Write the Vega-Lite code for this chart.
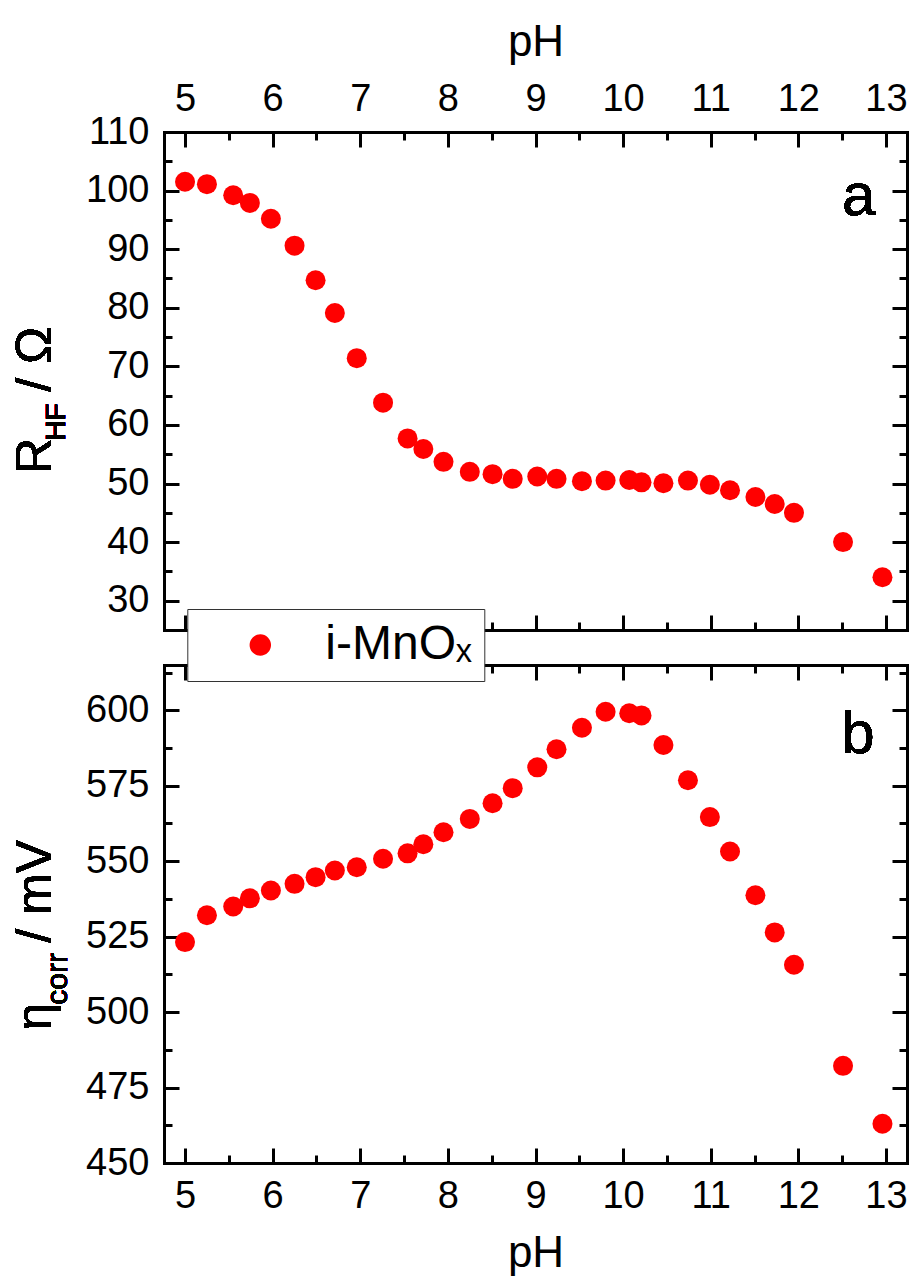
{
  "$schema": "https://vega.github.io/schema/vega-lite/v6.json",
  "padding": {"left": 10, "top": 20, "right": 5, "bottom": 5},
  "background": "white",
  "bounds": "flush",
  "spacing": 35,
  "datasets": {
    "mnox": [
      {"pH": 5.00, "R": 101.5, "eta": 523.2, "sample": "i-MnOₓ"},
      {"pH": 5.25, "R": 101.1, "eta": 532.1, "sample": "i-MnOₓ"},
      {"pH": 5.55, "R": 99.2, "eta": 535.0, "sample": "i-MnOₓ"},
      {"pH": 5.74, "R": 97.9, "eta": 537.7, "sample": "i-MnOₓ"},
      {"pH": 5.98, "R": 95.2, "eta": 540.3, "sample": "i-MnOₓ"},
      {"pH": 6.25, "R": 90.6, "eta": 542.5, "sample": "i-MnOₓ"},
      {"pH": 6.49, "R": 84.7, "eta": 544.7, "sample": "i-MnOₓ"},
      {"pH": 6.71, "R": 79.1, "eta": 546.9, "sample": "i-MnOₓ"},
      {"pH": 6.96, "R": 71.4, "eta": 548.0, "sample": "i-MnOₓ"},
      {"pH": 7.26, "R": 63.8, "eta": 550.8, "sample": "i-MnOₓ"},
      {"pH": 7.54, "R": 57.7, "eta": 552.6, "sample": "i-MnOₓ"},
      {"pH": 7.72, "R": 55.9, "eta": 555.6, "sample": "i-MnOₓ"},
      {"pH": 7.95, "R": 53.7, "eta": 559.6, "sample": "i-MnOₓ"},
      {"pH": 8.25, "R": 52.0, "eta": 564.0, "sample": "i-MnOₓ"},
      {"pH": 8.51, "R": 51.6, "eta": 569.2, "sample": "i-MnOₓ"},
      {"pH": 8.74, "R": 50.8, "eta": 574.2, "sample": "i-MnOₓ"},
      {"pH": 9.02, "R": 51.2, "eta": 581.1, "sample": "i-MnOₓ"},
      {"pH": 9.24, "R": 50.8, "eta": 587.1, "sample": "i-MnOₓ"},
      {"pH": 9.53, "R": 50.4, "eta": 594.2, "sample": "i-MnOₓ"},
      {"pH": 9.80, "R": 50.5, "eta": 599.5, "sample": "i-MnOₓ"},
      {"pH": 10.07, "R": 50.6, "eta": 599.0, "sample": "i-MnOₓ"},
      {"pH": 10.21, "R": 50.2, "eta": 598.3, "sample": "i-MnOₓ"},
      {"pH": 10.46, "R": 50.05, "eta": 588.5, "sample": "i-MnOₓ"},
      {"pH": 10.74, "R": 50.5, "eta": 576.8, "sample": "i-MnOₓ"},
      {"pH": 10.99, "R": 49.8, "eta": 564.6, "sample": "i-MnOₓ"},
      {"pH": 11.22, "R": 48.85, "eta": 553.2, "sample": "i-MnOₓ"},
      {"pH": 11.51, "R": 47.7, "eta": 538.7, "sample": "i-MnOₓ"},
      {"pH": 11.73, "R": 46.5, "eta": 526.4, "sample": "i-MnOₓ"},
      {"pH": 11.95, "R": 45.0, "eta": 515.7, "sample": "i-MnOₓ"},
      {"pH": 12.51, "R": 40.0, "eta": 482.2, "sample": "i-MnOₓ"},
      {"pH": 12.96, "R": 34.0, "eta": 463.0, "sample": "i-MnOₓ"}
    ]
  },
  "vconcat": [
    {
      "width": 743,
      "height": 498,
      "data": {"name": "mnox"},
      "resolve": {"axis": {"x": "independent", "y": "independent"}},
      "layer": [
        {
          "mark": {"type": "circle", "size": 400, "color": "#ff0000", "opacity": 1},
          "encoding": {
            "x": {"field": "pH", "type": "quantitative", "scale": {"domain": [4.76, 13.24], "nice": false, "zero": false},
              "axis": {"orient": "top", "ticks": false, "values": [5, 6, 7, 8, 9, 10, 11, 12, 13], "title": "pH", "labelPadding": 14, "titlePadding": 16}},
            "y": {"field": "R", "type": "quantitative", "scale": {"domain": [25, 110], "nice": false, "zero": false},
              "axis": {"orient": "left", "ticks": false, "values": [30, 40, 50, 60, 70, 80, 90, 100, 110], "title": null, "labelPadding": 15}}
          }
        },
        {
          "mark": {"type": "circle", "opacity": 0},
          "encoding": {
            "x": {"field": "pH", "type": "quantitative", "scale": {"domain": [4.76, 13.24], "nice": false, "zero": false},
              "axis": {"orient": "bottom", "offset": -498, "labels": false, "tickSize": 15, "values": [5, 6, 7, 8, 9, 10, 11, 12, 13], "title": null}},
            "y": {"field": "R", "type": "quantitative", "scale": {"domain": [25, 110], "nice": false, "zero": false},
              "axis": {"orient": "right", "offset": -743, "labels": false, "tickSize": 15, "values": [30, 40, 50, 60, 70, 80, 90, 100, 110], "title": null}}
          }
        },
        {
          "mark": {"type": "circle", "opacity": 0},
          "encoding": {
            "x": {"field": "pH", "type": "quantitative", "scale": {"domain": [4.76, 13.24], "nice": false, "zero": false},
              "axis": {"orient": "bottom", "offset": -498, "labels": false, "tickSize": 8, "values": [5.5, 6.5, 7.5, 8.5, 9.5, 10.5, 11.5, 12.5], "title": null}},
            "y": {"field": "R", "type": "quantitative", "scale": {"domain": [25, 110], "nice": false, "zero": false},
              "axis": {"orient": "right", "offset": -743, "labels": false, "tickSize": 8, "values": [35, 45, 55, 65, 75, 85, 95, 105], "title": null}}
          }
        },
        {
          "mark": {"type": "circle", "opacity": 0},
          "encoding": {
            "x": {"field": "pH", "type": "quantitative", "scale": {"domain": [4.76, 13.24], "nice": false, "zero": false},
              "axis": {"orient": "top", "offset": -498, "labels": false, "tickSize": 15, "values": [5, 6, 7, 8, 9, 10, 11, 12, 13], "title": null}},
            "y": {"field": "R", "type": "quantitative", "scale": {"domain": [25, 110], "nice": false, "zero": false},
              "axis": {"orient": "left", "offset": -743, "labels": false, "tickSize": 15, "values": [30, 40, 50, 60, 70, 80, 90, 100, 110], "title": null}}
          }
        },
        {
          "mark": {"type": "circle", "opacity": 0},
          "encoding": {
            "x": {"field": "pH", "type": "quantitative", "scale": {"domain": [4.76, 13.24], "nice": false, "zero": false},
              "axis": {"orient": "top", "offset": -498, "labels": false, "tickSize": 8, "values": [5.5, 6.5, 7.5, 8.5, 9.5, 10.5, 11.5, 12.5], "title": null}},
            "y": {"field": "R", "type": "quantitative", "scale": {"domain": [25, 110], "nice": false, "zero": false},
              "axis": {"orient": "left", "offset": -743, "labels": false, "tickSize": 8, "values": [35, 45, 55, 65, 75, 85, 95, 105], "title": null}}
          }
        },
        {
          "mark": {"type": "text", "text": "a", "align": "center", "baseline": "alphabetic", "fontSize": 60, "font": "Liberation Sans", "color": "#000"},
          "encoding": {
            "x": {"datum": 12.69, "type": "quantitative", "scale": {"domain": [4.76, 13.24], "nice": false, "zero": false}, "axis": null},
            "y": {"datum": 95.9, "type": "quantitative", "scale": {"domain": [25, 110], "nice": false, "zero": false}, "axis": null}
          }
        },
        {
          "mark": {"type": "text", "text": "R", "angle": 270, "align": "right", "baseline": "alphabetic", "fontSize": 50, "font": "Liberation Sans", "color": "#000"},
          "encoding": {
            "x": {"datum": 3.47, "type": "quantitative", "scale": {"domain": [4.76, 13.24], "nice": false, "zero": false}, "axis": null},
            "y": {"datum": 57.8, "type": "quantitative", "scale": {"domain": [25, 110], "nice": false, "zero": false}, "axis": null}
          }
        },
        {
          "mark": {"type": "text", "text": "HF", "angle": 270, "align": "left", "baseline": "alphabetic", "fontSize": 28, "dx": -3, "dy": 14, "font": "Liberation Sans", "color": "#000"},
          "encoding": {
            "x": {"datum": 3.47, "type": "quantitative", "scale": {"domain": [4.76, 13.24], "nice": false, "zero": false}, "axis": null},
            "y": {"datum": 57.8, "type": "quantitative", "scale": {"domain": [25, 110], "nice": false, "zero": false}, "axis": null}
          }
        },
        {
          "mark": {"type": "text", "text": "/ Ω", "angle": 270, "align": "left", "baseline": "alphabetic", "fontSize": 50, "dx": 46, "font": "Liberation Sans", "color": "#000"},
          "encoding": {
            "x": {"datum": 3.47, "type": "quantitative", "scale": {"domain": [4.76, 13.24], "nice": false, "zero": false}, "axis": null},
            "y": {"datum": 57.8, "type": "quantitative", "scale": {"domain": [25, 110], "nice": false, "zero": false}, "axis": null}
          }
        }
      ]
    },
    {
      "width": 743,
      "height": 498,
      "data": {"name": "mnox"},
      "resolve": {"axis": {"x": "independent", "y": "independent"}},
      "layer": [
        {
          "mark": {"type": "circle", "size": 400, "opacity": 1},
          "encoding": {
            "x": {"field": "pH", "type": "quantitative", "scale": {"domain": [4.76, 13.24], "nice": false, "zero": false},
              "axis": {"orient": "bottom", "ticks": false, "values": [5, 6, 7, 8, 9, 10, 11, 12, 13], "title": "pH", "labelPadding": 14, "titlePadding": 16}},
            "y": {"field": "eta", "type": "quantitative", "scale": {"domain": [450, 615], "nice": false, "zero": false},
              "axis": {"orient": "left", "ticks": false, "values": [450, 475, 500, 525, 550, 575, 600], "title": null, "labelPadding": 15}},
            "color": {"field": "sample", "type": "nominal", "scale": {"range": ["#ff0000"]},
              "legend": {"orient": "none", "legendX": 23.3, "legendY": 477, "title": null, "symbolType": "circle", "symbolSize": 460, "symbolStrokeWidth": 0, "symbolOpacity": 1, "labelFontSize": 48, "labelFont": "Liberation Sans", "labelColor": "#000", "labelLimit": 400, "padding": 12, "symbolOffset": 37, "labelOffset": 41, "fillColor": "#ffffff", "strokeColor": "#333333", "zindex": 5}}
          }
        },
        {
          "mark": {"type": "circle", "opacity": 0},
          "encoding": {
            "x": {"field": "pH", "type": "quantitative", "scale": {"domain": [4.76, 13.24], "nice": false, "zero": false},
              "axis": {"orient": "bottom", "offset": -498, "labels": false, "tickSize": 15, "values": [5, 6, 7, 8, 9, 10, 11, 12, 13], "title": null}},
            "y": {"field": "eta", "type": "quantitative", "scale": {"domain": [450, 615], "nice": false, "zero": false},
              "axis": {"orient": "right", "offset": -743, "labels": false, "tickSize": 15, "values": [450, 475, 500, 525, 550, 575, 600], "title": null}}
          }
        },
        {
          "mark": {"type": "circle", "opacity": 0},
          "encoding": {
            "x": {"field": "pH", "type": "quantitative", "scale": {"domain": [4.76, 13.24], "nice": false, "zero": false},
              "axis": {"orient": "bottom", "offset": -498, "labels": false, "tickSize": 8, "values": [5.5, 6.5, 7.5, 8.5, 9.5, 10.5, 11.5, 12.5], "title": null}},
            "y": {"field": "eta", "type": "quantitative", "scale": {"domain": [450, 615], "nice": false, "zero": false},
              "axis": {"orient": "right", "offset": -743, "labels": false, "tickSize": 8, "values": [462.5, 487.5, 512.5, 537.5, 562.5, 587.5, 612.5], "title": null}}
          }
        },
        {
          "mark": {"type": "circle", "opacity": 0},
          "encoding": {
            "x": {"field": "pH", "type": "quantitative", "scale": {"domain": [4.76, 13.24], "nice": false, "zero": false},
              "axis": {"orient": "top", "offset": -498, "labels": false, "tickSize": 15, "values": [5, 6, 7, 8, 9, 10, 11, 12, 13], "title": null}},
            "y": {"field": "eta", "type": "quantitative", "scale": {"domain": [450, 615], "nice": false, "zero": false},
              "axis": {"orient": "left", "offset": -743, "labels": false, "tickSize": 15, "values": [450, 475, 500, 525, 550, 575, 600], "title": null}}
          }
        },
        {
          "mark": {"type": "circle", "opacity": 0},
          "encoding": {
            "x": {"field": "pH", "type": "quantitative", "scale": {"domain": [4.76, 13.24], "nice": false, "zero": false},
              "axis": {"orient": "top", "offset": -498, "labels": false, "tickSize": 8, "values": [5.5, 6.5, 7.5, 8.5, 9.5, 10.5, 11.5, 12.5], "title": null}},
            "y": {"field": "eta", "type": "quantitative", "scale": {"domain": [450, 615], "nice": false, "zero": false},
              "axis": {"orient": "left", "offset": -743, "labels": false, "tickSize": 8, "values": [462.5, 487.5, 512.5, 537.5, 562.5, 587.5, 612.5], "title": null}}
          }
        },
        {
          "mark": {"type": "text", "text": "b", "align": "center", "baseline": "alphabetic", "fontSize": 60, "font": "Liberation Sans", "color": "#000"},
          "encoding": {
            "x": {"datum": 12.68, "type": "quantitative", "scale": {"domain": [4.76, 13.24], "nice": false, "zero": false}, "axis": null},
            "y": {"datum": 585.8, "type": "quantitative", "scale": {"domain": [450, 615], "nice": false, "zero": false}, "axis": null}
          }
        },
        {
          "mark": {"type": "text", "text": "η", "angle": 270, "align": "right", "baseline": "alphabetic", "fontSize": 50, "font": "Liberation Sans", "color": "#000"},
          "encoding": {
            "x": {"datum": 3.47, "type": "quantitative", "scale": {"domain": [4.76, 13.24], "nice": false, "zero": false}, "axis": null},
            "y": {"datum": 503.1, "type": "quantitative", "scale": {"domain": [450, 615], "nice": false, "zero": false}, "axis": null}
          }
        },
        {
          "mark": {"type": "text", "text": "corr", "angle": 270, "align": "left", "baseline": "alphabetic", "fontSize": 30, "dx": -2, "dy": 16, "font": "Liberation Sans", "color": "#000"},
          "encoding": {
            "x": {"datum": 3.47, "type": "quantitative", "scale": {"domain": [4.76, 13.24], "nice": false, "zero": false}, "axis": null},
            "y": {"datum": 503.1, "type": "quantitative", "scale": {"domain": [450, 615], "nice": false, "zero": false}, "axis": null}
          }
        },
        {
          "mark": {"type": "text", "text": "/ mV", "angle": 270, "align": "left", "baseline": "alphabetic", "fontSize": 50, "dx": 60, "font": "Liberation Sans", "color": "#000"},
          "encoding": {
            "x": {"datum": 3.47, "type": "quantitative", "scale": {"domain": [4.76, 13.24], "nice": false, "zero": false}, "axis": null},
            "y": {"datum": 503.1, "type": "quantitative", "scale": {"domain": [450, 615], "nice": false, "zero": false}, "axis": null}
          }
        }
      ]
    }
  ],
  "config": {
    "font": "Liberation Sans",
    "view": {"stroke": null},
    "axis": {
      "grid": false,
      "domainColor": "#000000",
      "domainWidth": 3,
      "domainCap": "square",
      "tickColor": "#000000",
      "tickWidth": 3,
      "labelFont": "Liberation Sans",
      "labelFontSize": 38,
      "labelColor": "#000000",
      "labelFlush": false,
      "labelOverlap": false,
      "titleFont": "Liberation Sans",
      "titleFontSize": 44,
      "titleFontWeight": "normal",
      "titleColor": "#000000",
      "zindex": 1
    }
  }
}
